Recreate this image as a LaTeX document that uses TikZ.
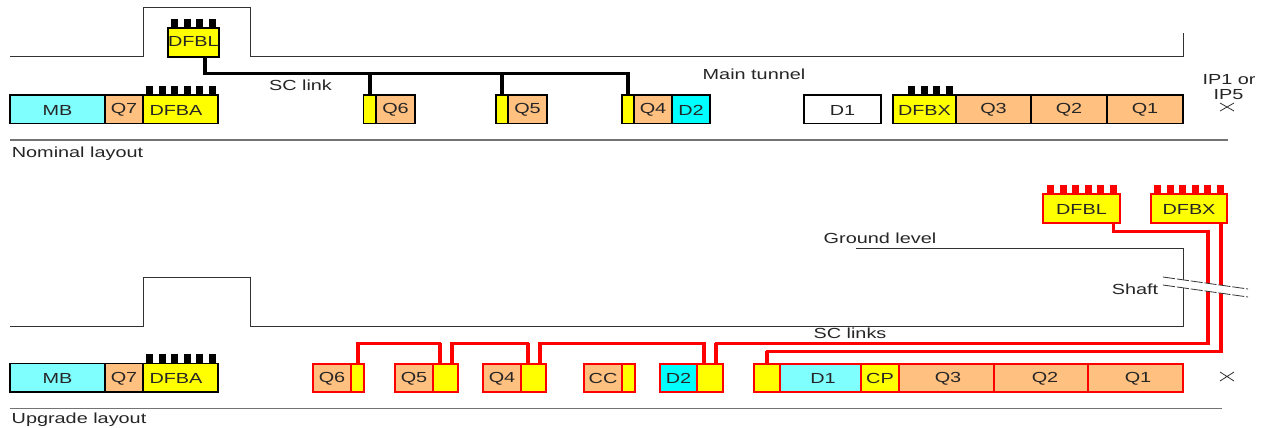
\documentclass[tikz,border=0pt]{standalone}
\usepackage{fontspec}
\setmainfont[FakeStretch=1.36]{Liberation Sans}
\usetikzlibrary{calc}
\definecolor{orq}{RGB}{255,192,128}
\definecolor{lcy}{RGB}{128,255,255}
\definecolor{cyn}{RGB}{0,255,255}
\definecolor{yel}{RGB}{255,255,0}
\definecolor{redl}{RGB}{255,0,0}
\definecolor{ln}{RGB}{50,50,50}
\tikzset{
  blk/.style={draw=black,line width=1.6pt},
  rdb/.style={draw=redl,line width=2pt},
  txt/.style={font=\fontsize{14.6}{16}\selectfont,text=black!85,inner sep=0pt},
  tunnel/.style={draw=ln,line width=1pt},
  sep/.style={draw=black!55,line width=1.2pt},
  blink/.style={draw=black,line width=3pt,line join=miter},
  blinkv/.style={draw=black,line width=4pt},
  rlink/.style={draw=redl,line width=3pt,line join=miter},
  rlinkv/.style={draw=redl,line width=4pt},
  shaftcut/.style={draw=ln,line width=.8pt,dash pattern=on 12pt off 2pt},
  stud/.style={inner sep=0pt,minimum width=7pt,minimum height=9pt,anchor=south west}
}
% \bx{name}{x0}{y0}{x1}{y1}{style}{fill}{text}
\newcommand{\bx}[8]{%
  \pgfmathsetmacro{\bxw}{#4-#2}\pgfmathsetmacro{\bxh}{#5-#3}%
  \node[#6,fill=#7,anchor=north west,inner sep=0pt,outer sep=0pt,
        minimum width=\bxw pt,minimum height=\bxh pt,
        font=\fontsize{14.6}{16}\selectfont,text=black!85] (#1) at (#2,#3) {\raisebox{-.8pt}[\height][\depth]{#8}};}
% \studs{colour}{y}{x list}
\newcommand{\studs}[3]{\foreach \sx in {#3}{\node[stud,fill=#1] at (\sx,#2) {};}}
\begin{document}
\begin{tikzpicture}[x=1pt,y=-1pt]
\useasboundingbox[fill=white] (0,0) rectangle (1267,428);

% ---- nominal layout
\draw[tunnel] (10,57) -- (143,57) -- (143,8) -- (250,8) -- (250,57) -- (1183,57) -- (1183,33);
\draw[sep] (10,140) -- (1228,140);

\bx{dfblN}{168}{28}{218}{57}{blk}{yel}{\raisebox{1.5pt}[\height][\depth]{DFBL}}
\studs{black}{28}{171,184,196,209}

\bx{mbN}{10}{95}{105}{123.5}{blk}{lcy}{MB}
\bx{qsevN}{105}{95}{143}{123.5}{blk}{orq}{Q7}
\bx{dfbaN}{143}{95}{218}{123.5}{blk}{yel}{DFBA\hspace{9pt}}
\studs{black}{95}{146,159,171,184,196,209}

\bx{ysixN}{363.5}{95}{376}{123.5}{blk}{yel}{}
\bx{qsixN}{376}{95}{415}{123.5}{blk}{orq}{Q6}
\bx{yfivN}{496}{95}{508}{123.5}{blk}{yel}{}
\bx{qfivN}{508}{95}{547}{123.5}{blk}{orq}{Q5}
\bx{yfouN}{622}{95}{634}{123.5}{blk}{yel}{}
\bx{qfouN}{634}{95}{672}{123.5}{blk}{orq}{Q4}
\bx{dtwoN}{672}{95}{710}{123.5}{blk}{cyn}{D2}
\bx{doneN}{804}{95}{881}{123.5}{blk}{white}{D1}
\bx{dfbxN}{893}{95}{956}{123.5}{blk}{yel}{DFBX}
\studs{black}{95}{908,921,933,946}
\bx{qthrN}{956}{95}{1031}{123.5}{blk}{orq}{Q3}
\bx{qtwoN}{1031}{95}{1107}{123.5}{blk}{orq}{Q2}
\bx{qoneN}{1107}{95}{1183}{123.5}{blk}{orq}{Q1}

\coordinate (busN) at (205,73.5);
\draw[blink] ([xshift=12pt]dfblN.south |- busN) -- (yfouN.north |- busN);
\draw[blinkv] ([xshift=12pt]dfblN.south) -- ([xshift=12pt]dfblN.south |- 0,75);
\draw[blinkv] (ysixN.north) -- (ysixN.north |- 0,72);
\draw[blinkv] (yfivN.north) -- (yfivN.north |- 0,72);
\draw[blinkv] (yfouN.north) -- (yfouN.north |- 0,72);

\node[txt] (sclink) at (300.5,85) {SC link};
\node[txt] (tunnelT) at (754,74) {Main tunnel};
\node[txt] (ipa) at (1229,80) {IP1 or};
\node[txt] (ipb) at (1228.5,95) {IP5};
\node[txt] (nom) at (77.5,153.5) {Nominal layout};
\draw[ln,line width=.8pt] (1220,103) -- (1234,111) (1220,111) -- (1234,103);

% ---- upgrade layout
\draw[tunnel] (10,326) -- (143,326) -- (143,277) -- (250,277) -- (250,326) -- (1183,326) -- (1183,248) -- (856,248);
\draw[sep] (10,408.5) -- (1222,408.5);

\bx{mbU}{10}{363.5}{105}{392}{blk}{lcy}{MB}
\bx{qsevU}{105}{363.5}{143}{392}{blk}{orq}{Q7}
\bx{dfbaU}{143}{363.5}{218}{392}{blk}{yel}{DFBA\hspace{9pt}}
\studs{black}{363.5}{146,159,171,184,196,209}

\bx{qsixU}{313}{363.5}{351}{392}{rdb}{orq}{Q6}
\bx{ysixU}{351}{363.5}{364}{392}{rdb}{yel}{}
\bx{qfivU}{395}{363.5}{433}{392}{rdb}{orq}{Q5}
\bx{yfivU}{433}{363.5}{458}{392}{rdb}{yel}{}
\bx{qfouU}{483}{363.5}{521}{392}{rdb}{orq}{Q4}
\bx{yfouU}{521}{363.5}{546}{392}{rdb}{yel}{}
\bx{ccU}{584}{363.5}{622}{392}{rdb}{orq}{CC}
\bx{yccU}{622}{363.5}{635}{392}{rdb}{yel}{}
\bx{dtwoU}{660}{363.5}{697}{392}{rdb}{cyn}{D2}
\bx{ytwoU}{697}{363.5}{723}{392}{rdb}{yel}{}
\bx{yoneU}{754}{363.5}{780}{392}{rdb}{yel}{}
\bx{doneU}{780}{363.5}{861}{392}{rdb}{lcy}{\hspace{5pt}D1}
\bx{cpU}{861}{363.5}{899}{392}{rdb}{yel}{CP}
\bx{qthrU}{899}{363.5}{994}{392}{rdb}{orq}{\hspace{3pt}Q3}
\bx{qtwoU}{994}{363.5}{1088}{392}{rdb}{orq}{\hspace{8pt}Q2}
\bx{qoneU}{1088}{363.5}{1183}{392}{rdb}{orq}{\hspace{5pt}Q1}

\bx{dfblU}{1043}{194}{1120}{223}{rdb}{yel}{DFBL}
\studs{redl}{194}{1047,1060,1072,1085,1097,1110}
\bx{dfbxU}{1151}{194}{1227}{223}{rdb}{yel}{DFBX}
\studs{redl}{194}{1154,1167,1179,1192,1204,1217}

\coordinate (busU) at (0,343);
\coordinate (busV) at (0,351);
\coordinate (colL) at (1208,0);
\coordinate (colR) at (1221,0);
\draw[rlink] (ysixU.north) |- ([xshift=-6pt]yfivU.north |- busU) -- ([xshift=-6pt]yfivU.north);
\draw[rlink] ([xshift=6pt]yfivU.north) |- ([xshift=-6pt]yfouU.north |- busU) -- ([xshift=-6pt]yfouU.north);
\draw[rlink] ([xshift=6pt]yfouU.north) |- ([xshift=-6pt]ytwoU.north |- busU) -- ([xshift=-6pt]ytwoU.north);
\draw[rlink] ([xshift=6pt]ytwoU.north) |- (colL |- busU);
\draw[rlink] (colL |- 0,231) -- ([xshift=31.5pt]dfblU.south |- 0,231) -- ([xshift=31.5pt]dfblU.south);
\draw[rlink] (yoneU.north) |- (colR |- busV);
\draw[rlinkv] (colL |- 0,344.5) -- (colL |- 0,229.5);
\draw[rlinkv] (colR |- 0,352.5) -- (colR |- dfbxU.south);
\foreach \nn/\sh in {ysixU/0,yfivU/-6,yfivU/6,yfouU/-6,yfouU/6,ytwoU/-6,ytwoU/6}{
  \draw[rlinkv] ([xshift=\sh pt]\nn.north) -- ([xshift=\sh pt]\nn.north |- busU);
}
\draw[rlinkv] (yoneU.north) -- (yoneU.north |- busV);

% shaft break
\fill[white] (1163,277) -- (1248,289) -- (1248,297) -- (1163,285) -- cycle;
\draw[shaftcut] (1163,277) -- (1248,289);
\draw[shaftcut] (1163,285) -- (1248,297);

\node[txt] (ground) at (880,238) {Ground level};
\node[txt] (shaft) at (1135,289) {Shaft};
\node[txt] (sclinks) at (850,333) {SC links};
\node[txt] (upg) at (79,419.5) {Upgrade layout};
\draw[ln,line width=.8pt] (1220,372) -- (1234,381) (1220,381) -- (1234,372);
\end{tikzpicture}
\end{document}
